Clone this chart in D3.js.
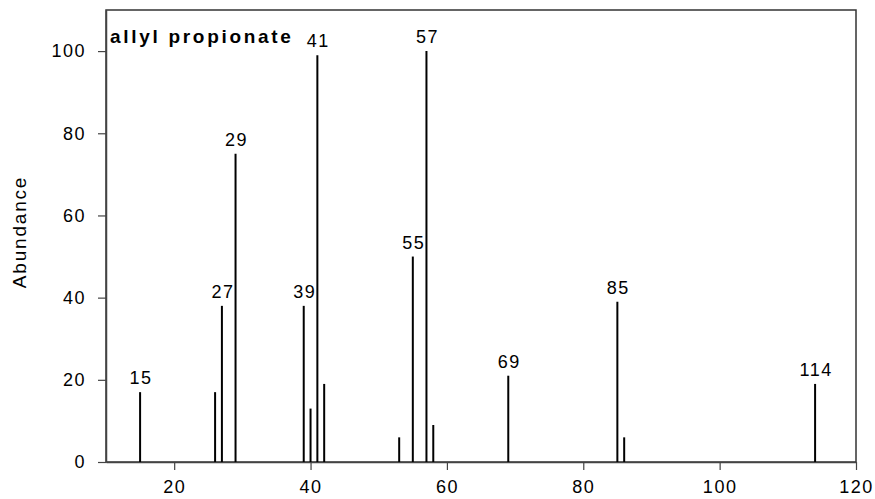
<!DOCTYPE html>
<html>
<head>
<meta charset="utf-8">
<script src="https://cdn.jsdelivr.net/npm/d3@7"></script>
<style>
  body { margin: 0; background: #fff; }
  text { font-family: "Liberation Sans", Arial, sans-serif; }
</style>
</head>
<body>
<div id="chart"></div>
<script>
// mass spectrum data (m/z and relative abundance)
var mz        = [15, 26, 27, 29, 39, 40, 41, 42, 53, 55, 57, 58, 69, 85, 86, 114];
var abundance = [17, 17, 38, 75, 38, 13, 99, 19, 6, 50, 100, 9, 21, 39, 6, 19];
var labeledPeaks = [15, 27, 29, 39, 41, 55, 57, 69, 85, 114];
var xTicks = [20, 40, 60, 80, 100, 120];
var yTicks = [0, 20, 40, 60, 80, 100];
var title = "allyl propionate";

var data = mz.map(function(m, i) { return {mz: m, ab: abundance[i]}; });

// dimensions
var W = 875, H = 499;
var margin = {top: 10, right: 19, bottom: 37, left: 106},
    width = W - margin.left - margin.right,
    height = H - margin.top - margin.bottom;

var svg = d3.select("#chart")
  .append("svg")
    .attr("width", W)
    .attr("height", H)
  .append("g")
    .attr("transform", "translate(" + margin.left + "," + margin.top + ")");

var x = d3.scaleLinear().domain([10, 120]).range([0, width]);
var y = d3.scaleLinear().domain([0, 110]).range([height, 0]);

// frame
svg.append("rect")
  .attr("x", 0).attr("y", 0)
  .attr("width", width).attr("height", height)
  .attr("fill", "none")
  .attr("stroke", "#333")
  .attr("stroke-width", 1.5);

// x axis
var gx = svg.append("g")
  .attr("transform", "translate(0," + height + ")")
  .call(d3.axisBottom(x).tickValues(xTicks).tickSize(8).tickSizeOuter(0).tickPadding(10));

// y axis
var gy = svg.append("g")
  .call(d3.axisLeft(y).tickValues(yTicks).tickSize(8).tickSizeOuter(0).tickPadding(12));

[gx, gy].forEach(function(g) {
  g.select(".domain").attr("stroke", "#444").attr("stroke-width", 1.5);
  g.selectAll(".tick line").attr("stroke", "#444").attr("stroke-width", 1.2);
  g.selectAll(".tick text")
    .attr("fill", "#000")
    .style("font-size", "18px")
    .style("letter-spacing", "1.5px");
});

// y label
svg.append("text")
  .attr("transform", "rotate(-90)")
  .attr("x", -(height / 2) + 4)
  .attr("y", -margin.left + 26)
  .style("text-anchor", "middle")
  .style("font-size", "19px")
  .style("letter-spacing", "1.8px")
  .text("Abundance");

// peaks
svg.selectAll(".peak")
  .data(data)
  .enter().append("line")
    .attr("class", "peak")
    .attr("x1", function(d) { return x(d.mz); })
    .attr("x2", function(d) { return x(d.mz); })
    .attr("y1", y(0))
    .attr("y2", function(d) { return y(d.ab); })
    .attr("stroke", "#000")
    .attr("stroke-width", 2);

// peak labels
svg.selectAll(".plabel")
  .data(data.filter(function(d) { return labeledPeaks.indexOf(d.mz) >= 0; }))
  .enter().append("text")
    .attr("class", "plabel")
    .attr("x", function(d) { return x(d.mz) + 1; })
    .attr("y", function(d) { return y(d.ab) - 8; })
    .style("text-anchor", "middle")
    .style("font-size", "18px")
    .style("letter-spacing", "1.5px")
    .text(function(d) { return d.mz; });

// title
svg.append("text")
  .attr("x", 4)
  .attr("y", 33)
  .style("font-size", "19px")
  .style("font-weight", "bold")
  .style("letter-spacing", "2.7px")
  .text(title);
</script>
</body>
</html>
